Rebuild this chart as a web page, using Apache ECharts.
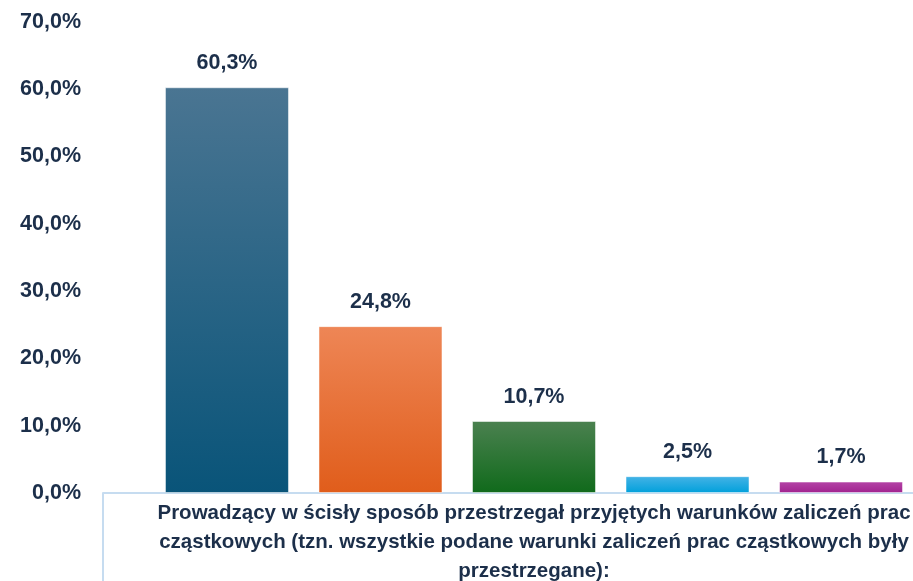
<!DOCTYPE html>
<html>
<head>
<meta charset="utf-8">
<script src="https://cdn.jsdelivr.net/npm/echarts@6/dist/echarts.min.js"></script>
<style>
  html, body { margin: 0; padding: 0; background: #fff; }
  #chart { width: 913px; height: 581px; }
</style>
</head>
<body>
<div id="chart"></div>
<script>
// dane
var categories = ['Prowadzący w ścisły sposób przestrzegał przyjętych warunków zaliczeń prac\ncząstkowych (tzn. wszystkie podane warunki zaliczeń prac cząstkowych były\nprzestrzegane):'];
var seriesNames = ['Zdecydowanie tak', 'Raczej tak', 'Ani tak, ani nie', 'Raczej nie', 'Zdecydowanie nie'];
var values = [60.3, 24.8, 10.7, 2.5, 1.7];
var yTicks = [0, 10, 20, 30, 40, 50, 60, 70];

// kolory gradientu (góra, dół)
var colors = [
    ['#4a7592', '#095479'],
    ['#ee8656', '#e05d1b'],
    ['#4b8150', '#106a1b'],
    ['#45b3e6', '#00a0db'],
    ['#b444a6', '#a0228f']
];

var textColor = '#1c2f4a';
var fmt = function (v) { return v.toFixed(1).replace('.', ',') + '%'; };

var chart = echarts.init(document.getElementById('chart'));

var series = values.map(function (v, i) {
    return {
        name: seriesNames[i],
        type: 'bar',
        data: [v],
        barWidth: 124,
        barGap: '23.8%',
        itemStyle: {
            color: new echarts.graphic.LinearGradient(0, 0, 0, 1, [
                { offset: 0, color: colors[i][0] },
                { offset: 1, color: colors[i][1] }
            ]),
            borderColor: 'rgba(255,255,255,0.5)',
            borderWidth: 1
        },
        label: {
            show: true,
            position: 'top',
            distance: 13,
            formatter: function (p) { return fmt(p.value); },
            color: textColor,
            fontFamily: 'Liberation Sans',
            fontWeight: 'bold',
            fontSize: 21.5
        }
    };
});

var option = {
    animation: false,
    grid: {
        left: 103,
        right: -52,
        top: 22,
        bottom: 88,
        containLabel: false,
        outerBoundsMode: 'none'
    },
    xAxis: {
        type: 'category',
        data: categories,
        axisLine: { lineStyle: { color: '#c6dcf0', width: 2 } },
        axisTick: { show: true, length: 90, lineStyle: { color: '#c6dcf0', width: 2 } },
        axisLabel: {
            color: textColor,
            fontFamily: 'Liberation Sans',
            fontWeight: 'bold',
            fontSize: 20.5,
            lineHeight: 29,
            margin: 6,
            align: 'center'
        }
    },
    yAxis: {
        type: 'value',
        min: yTicks[0],
        max: yTicks[yTicks.length - 1],
        interval: 10,
        axisLine: { show: false },
        axisTick: { show: false },
        splitLine: { show: false },
        axisLabel: {
            formatter: fmt,
            color: textColor,
            fontFamily: 'Liberation Sans',
            fontWeight: 'bold',
            fontSize: 21.5,
            margin: 22
        }
    },
    series: series
};

chart.setOption(option);
</script>
</body>
</html>
